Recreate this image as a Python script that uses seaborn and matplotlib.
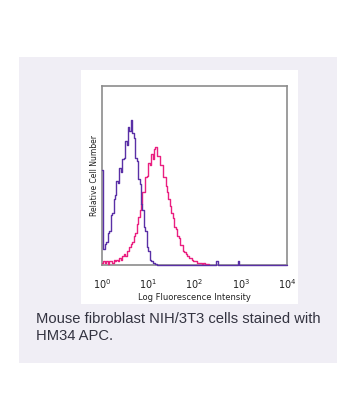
import numpy as np
import pandas as pd
import matplotlib
matplotlib.use("Agg")
import matplotlib.pyplot as plt
from matplotlib.patches import Rectangle
import seaborn as sns

sns.set_style("white")

# instrument scale: 4 decades, 32 channels per decade (log10 units)
decades = 4
channels_per_decade = 32

# relative cell number per channel (% of axis height)
isotype_counts = ([53, 9, 12, 13, 18, 19, 28, 29, 37, 39, 47, 46, 54, 52, 59, 60,
                   69, 67, 77, 75, 81, 74, 71, 60, 58, 48, 45, 34, 31, 21, 19, 10,
                   8, 3, 2, 1, 1, 0.5] + [0] * 41 + [2] + [0] * 14 + [2] + [0] * 33)
stained_counts = [1, 2, 1, 2, 0.5, 2, 2, 1, 3, 2, 3, 2, 4, 3, 5, 6,
                  5, 8, 8, 10, 12, 13, 16, 18, 23, 27, 31, 34, 41, 41, 49, 50,
                  57, 56, 62, 59, 65, 66, 61, 61, 56, 56, 49, 49, 44, 41, 37, 33,
                  29, 26, 21, 20, 16, 15, 11, 11, 8, 7, 6, 5, 4, 4, 3, 2,
                  2, 2, 1, 1, 1, 0.5, 1, 0.5, 0.5, 0.5]
tick_labels = ["$10^{0}$", "$10^{1}$", "$10^{2}$", "$10^{3}$", "$10^{4}$"]
caption = "Mouse fibroblast NIH/3T3 cells stained with\nHM34 APC."

iso_df = pd.DataFrame({"log_fl": (np.arange(len(isotype_counts)) + 0.5) / channels_per_decade,
                       "count": isotype_counts})
st_df = pd.DataFrame({"log_fl": (np.arange(len(stained_counts)) + 0.5) / channels_per_decade,
                      "count": stained_counts})

W, H = 363, 418
fig = plt.figure(figsize=(W / 100, H / 100), dpi=100)
fig.patch.set_facecolor("white")

# background panels
fig.patches.append(Rectangle((19 / W, 1 - 363 / H), 318 / W, 306 / H,
                             transform=fig.transFigure, facecolor="#f0eef5",
                             edgecolor="none", zorder=-2))
fig.patches.append(Rectangle((81 / W, 1 - 304 / H), 217 / W, 234 / H,
                             transform=fig.transFigure, facecolor="white",
                             edgecolor="none", zorder=-1))

ax = fig.add_axes([102 / W, 1 - 265 / H, 185 / W, 179 / H])
ax.patch.set_alpha(0)

hist_kw = dict(binwidth=1 / channels_per_decade, element="step", fill=False,
               linewidth=1.0, zorder=3, clip_on=False, ax=ax)
sns.histplot(data=st_df, x="log_fl", weights="count", color="#ea1f80",
             binrange=(0, len(stained_counts) / channels_per_decade), **hist_kw)
sns.histplot(data=iso_df, x="log_fl", weights="count", color="#5a30a6",
             binrange=(0, decades), **hist_kw)

ax.set_xlim(0, decades)
ax.set_ylim(0, 100)
ax.set_xticks(range(decades + 1))
ax.set_xticklabels(tick_labels, fontsize=7, color="#222222")
ax.set_yticks([])
ax.tick_params(axis="x", length=0, pad=9)
ax.set_xlabel("Log Fluorescence Intensity", fontsize=6, color="#222222", labelpad=1)
ax.set_ylabel("Relative Cell Number", fontsize=5.5, color="#222222", labelpad=2)
for s in ax.spines.values():
    s.set_color("#8c8c8c")
    s.set_linewidth(1.2)

fig.text(36 / W, 1 - 312 / H, caption, fontsize=10.6, family="Liberation Sans",
         color="#333340", va="top", ha="left", linespacing=1.25)

fig.savefig("out.png", dpi=100)
